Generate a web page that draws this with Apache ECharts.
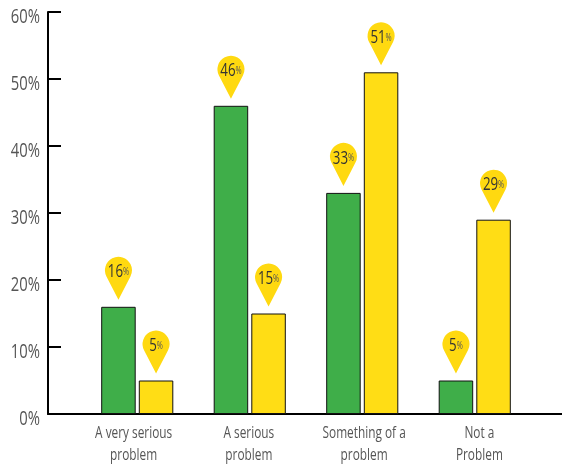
<!DOCTYPE html>
<html><head><meta charset="utf-8">
<script src="https://cdn.jsdelivr.net/npm/echarts@6/dist/echarts.min.js"></script>
<style>html,body{margin:0;padding:0;background:#fff}#c{width:562px;height:465px}</style>
</head><body><div id="c"></div>
<script>
const categories = ['A very serious\nproblem','A serious\nproblem','Something of a\nproblem','Not a\nProblem'];
const greenValues = [16,46,33,5];
const yellowValues = [5,15,51,29];
const FONT = '"Open Sans",sans-serif';
const PIN = 'path://M13.5 43 L1.5 19.68 A13.5 13.5 0 1 1 25.5 19.68 Z';
// The reference type is a condensed face: narrow the installed Open Sans horizontally.
const SQUEEZE = 0.74;
(function(){
  const p = CanvasRenderingContext2D.prototype, ft = p.fillText, mt = p.measureText;
  p.fillText = function(t,x,y){ this.save(); this.translate(x,y); this.scale(SQUEEZE,1); ft.call(this,t,0,0); this.restore(); };
  p.measureText = function(t){ const m = mt.call(this,t); return {width:m.width*SQUEEZE,
    actualBoundingBoxAscent:m.actualBoundingBoxAscent,actualBoundingBoxDescent:m.actualBoundingBoxDescent,
    fontBoundingBoxAscent:m.fontBoundingBoxAscent,fontBoundingBoxDescent:m.fontBoundingBoxDescent}; };
})();
function pins(values){
  return {
    symbol:PIN, symbolSize:[27,43], symbolOffset:[0,-28.5], symbolKeepAspect:false, silent:true,
    itemStyle:{color:'#ffd910',borderWidth:0},
    label:{show:true,position:'inside',offset:[0,-6],textBorderWidth:0,
      formatter:p=>'{n|'+p.value+'}{p|%}',
      rich:{n:{fontFamily:FONT,fontSize:18,color:'#333',textBorderWidth:0},p:{fontFamily:FONT,fontSize:10,color:'#555',textBorderWidth:0}}},
    data:values.map((v,i)=>({coord:[i,v],value:v}))
  };
}
function bar(name,values,color){
  return {name,type:'bar',xAxisIndex:0,yAxisIndex:0,data:values,barWidth:34.5,barGap:'9%',
    itemStyle:{color,borderColor:'#111',borderWidth:1},markPoint:pins(values),z:2};
}
const chart = echarts.init(document.getElementById('c'),null,{renderer:'canvas'});
chart.setOption({
  animation:false,
  grid:[
    {left:81,width:450,top:12,bottom:51,outerBoundsMode:'none'},
    {left:48,right:0,top:12,bottom:51,outerBoundsMode:'none'},
    {left:76,width:461,top:12,bottom:51,outerBoundsMode:'none'}
  ],
  xAxis:[
    {type:'category',gridIndex:0,data:categories,axisLine:{show:false},axisTick:{show:false},axisLabel:{show:false}},
    {type:'value',gridIndex:1,min:0,max:1,axisLine:{show:true,onZero:false,lineStyle:{color:'#000',width:2}},
     axisTick:{show:false},axisLabel:{show:false},splitLine:{show:false}},
    {type:'category',gridIndex:2,data:categories,axisLine:{show:false},axisTick:{show:false},
     axisLabel:{fontFamily:FONT,fontSize:16,color:'#555',lineHeight:22,margin:8,interval:0}}
  ],
  yAxis:[
    {type:'value',gridIndex:0,min:0,max:60,interval:10,show:false},
    {type:'value',gridIndex:1,min:0,max:60,interval:10,
     axisLine:{show:true,lineStyle:{color:'#000',width:2}},
     axisTick:{show:true,inside:true,length:13,lineStyle:{color:'#000',width:2}},
     splitLine:{show:false},
     axisLabel:{formatter:'{value}%',fontFamily:FONT,fontSize:20,color:'#555',margin:8,verticalAlign:'top',lineHeight:11}},
    {type:'value',gridIndex:2,min:0,max:60,interval:10,show:false}
  ],
  series:[bar('Green',greenValues,'#3fae49'),bar('Yellow',yellowValues,'#ffdd15')]
});
</script></body></html>
